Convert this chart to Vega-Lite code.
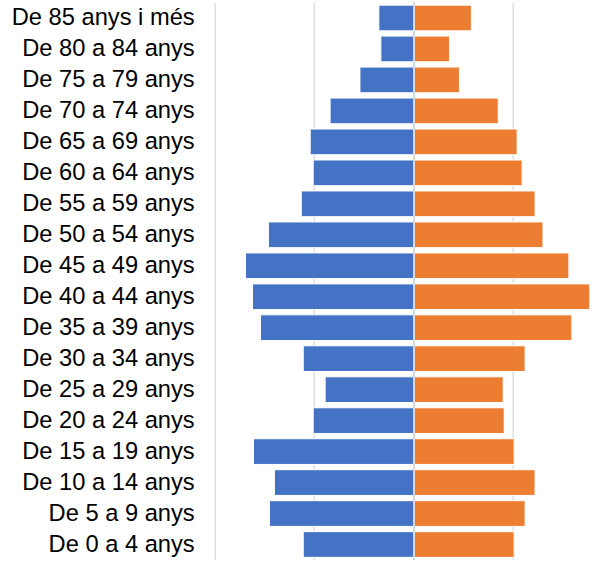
{
  "$schema": "https://vega.github.io/schema/vega-lite/v6.json",
  "autosize": {"type": "none"},
  "width": 388.3,
  "height": 557.5,
  "padding": {"left": 214.7, "top": 2.5, "right": 0, "bottom": 0},
  "background": "white",
  "config": {
    "view": {"stroke": null},
    "font": "Liberation Sans"
  },
  "data": {
    "values": [
      {"grup": "De 85 anys i més", "sexe": "Homes", "valor": -35},
      {"grup": "De 85 anys i més", "sexe": "Dones", "valor": 58},
      {"grup": "De 80 a 84 anys", "sexe": "Homes", "valor": -33},
      {"grup": "De 80 a 84 anys", "sexe": "Dones", "valor": 36},
      {"grup": "De 75 a 79 anys", "sexe": "Homes", "valor": -54},
      {"grup": "De 75 a 79 anys", "sexe": "Dones", "valor": 46},
      {"grup": "De 70 a 74 anys", "sexe": "Homes", "valor": -84},
      {"grup": "De 70 a 74 anys", "sexe": "Dones", "valor": 85},
      {"grup": "De 65 a 69 anys", "sexe": "Homes", "valor": -104},
      {"grup": "De 65 a 69 anys", "sexe": "Dones", "valor": 104},
      {"grup": "De 60 a 64 anys", "sexe": "Homes", "valor": -101},
      {"grup": "De 60 a 64 anys", "sexe": "Dones", "valor": 109},
      {"grup": "De 55 a 59 anys", "sexe": "Homes", "valor": -113},
      {"grup": "De 55 a 59 anys", "sexe": "Dones", "valor": 122},
      {"grup": "De 50 a 54 anys", "sexe": "Homes", "valor": -146},
      {"grup": "De 50 a 54 anys", "sexe": "Dones", "valor": 130},
      {"grup": "De 45 a 49 anys", "sexe": "Homes", "valor": -169},
      {"grup": "De 45 a 49 anys", "sexe": "Dones", "valor": 156},
      {"grup": "De 40 a 44 anys", "sexe": "Homes", "valor": -162},
      {"grup": "De 40 a 44 anys", "sexe": "Dones", "valor": 177},
      {"grup": "De 35 a 39 anys", "sexe": "Homes", "valor": -154},
      {"grup": "De 35 a 39 anys", "sexe": "Dones", "valor": 159},
      {"grup": "De 30 a 34 anys", "sexe": "Homes", "valor": -111},
      {"grup": "De 30 a 34 anys", "sexe": "Dones", "valor": 112},
      {"grup": "De 25 a 29 anys", "sexe": "Homes", "valor": -89},
      {"grup": "De 25 a 29 anys", "sexe": "Dones", "valor": 90},
      {"grup": "De 20 a 24 anys", "sexe": "Homes", "valor": -101},
      {"grup": "De 20 a 24 anys", "sexe": "Dones", "valor": 91},
      {"grup": "De 15 a 19 anys", "sexe": "Homes", "valor": -161},
      {"grup": "De 15 a 19 anys", "sexe": "Dones", "valor": 101},
      {"grup": "De 10 a 14 anys", "sexe": "Homes", "valor": -140},
      {"grup": "De 10 a 14 anys", "sexe": "Dones", "valor": 122},
      {"grup": "De 5 a 9 anys", "sexe": "Homes", "valor": -145},
      {"grup": "De 5 a 9 anys", "sexe": "Dones", "valor": 112},
      {"grup": "De 0 a 4 anys", "sexe": "Homes", "valor": -111},
      {"grup": "De 0 a 4 anys", "sexe": "Dones", "valor": 101}
    ]
  },
  "layer": [
    {
      "mark": {"type": "bar", "stroke": "white", "strokeWidth": 1},
      "encoding": {
        "y": {
          "field": "grup",
          "type": "nominal",
          "sort": null,
          "scale": {"paddingInner": 0.17, "paddingOuter": 0.085},
          "axis": {
            "title": null,
            "domain": false,
            "ticks": false,
            "labelPadding": 20.5,
            "labelFontSize": 23.7,
            "labelLimit": 400,
            "labelColor": "black",
            "labelFont": "Liberation Sans"
          }
        },
        "x": {
          "field": "valor",
          "type": "quantitative",
          "scale": {"domain": [-200, 190.3], "nice": false, "zero": false},
          "axis": {
            "title": null,
            "values": [-200, -100, 0, 100],
            "labels": false,
            "ticks": false,
            "domain": false,
            "grid": true,
            "gridColor": "#d9d9d9",
            "gridWidth": 1.3
          }
        },
        "color": {
          "field": "sexe",
          "type": "nominal",
          "scale": {"domain": ["Homes", "Dones"], "range": ["#4472c4", "#ed7d31"]},
          "legend": null
        }
      }
    },
    {
      "mark": {"type": "rule", "color": "#d9d9d9", "strokeWidth": 1.3},
      "encoding": {"x": {"datum": 0}}
    }
  ]
}
